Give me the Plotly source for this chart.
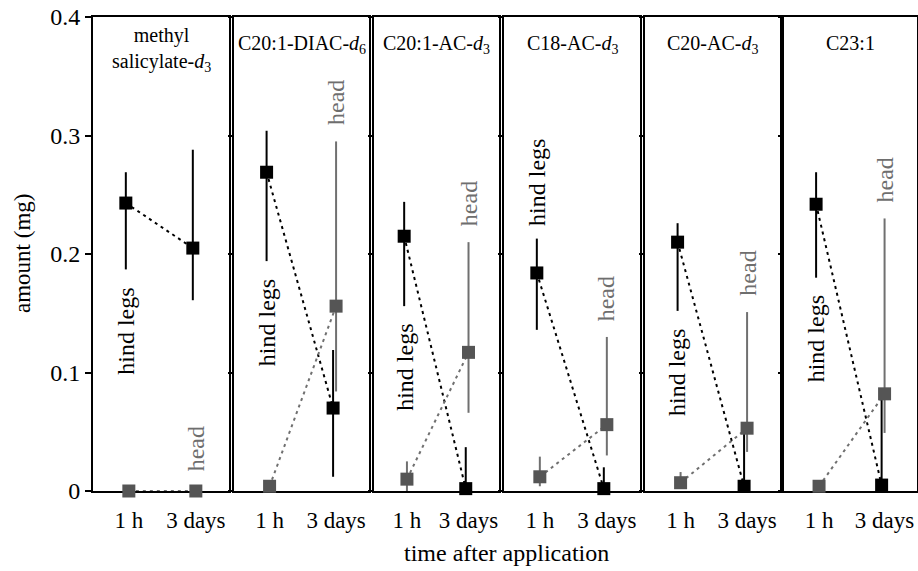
import numpy as np
import plotly.graph_objects as go

# ---------------- data ----------------
compounds = [
    "methyl<br>salicylate-<i>d</i><sub>3</sub>",
    "C20:1-DIAC-<i>d</i><sub>6</sub>",
    "C20:1-AC-<i>d</i><sub>3</sub>",
    "C18-AC-<i>d</i><sub>3</sub>",
    "C20-AC-<i>d</i><sub>3</sub>",
    "C23:1",
]
times = ["1 h", "3 days"]

# hind legs (black): mean, upper end, lower end of error bar
legs_mean = [[0.243, 0.205], [0.269, 0.070], [0.215, 0.002], [0.184, 0.002], [0.210, 0.004], [0.242, 0.005]]
legs_upper = [[0.269, 0.288], [0.304, 0.119], [0.244, 0.037], [0.213, 0.020], [0.226, 0.050], [0.269, 0.078]]
legs_lower = [[0.187, 0.161], [0.194, 0.012], [0.156, 0.000], [0.136, 0.000], [0.152, 0.000], [0.180, 0.000]]

# head (grey)
head_mean = [[0.000, 0.000], [0.004, 0.156], [0.010, 0.117], [0.012, 0.056], [0.007, 0.053], [0.004, 0.082]]
head_upper = [[0.000, 0.000], [0.004, 0.295], [0.025, 0.210], [0.029, 0.130], [0.016, 0.151], [0.004, 0.230]]
head_lower = [[0.000, 0.000], [0.004, 0.084], [0.000, 0.066], [0.004, 0.030], [0.003, 0.033], [0.004, 0.049]]

hind_label_side = ["below", "below", "below", "above", "below", "below"]
y_ticks = [0, 0.1, 0.2, 0.3, 0.4]

# ---------------- styling / layout ----------------
FONT = "Liberation Serif"
W, H = 918, 571
ML, MR, MT, MB = 93, 1, 17, 80
PW = W - ML - MR
panel_px = [(93, 229), (234, 369), (374, 499), (504, 640), (645, 780), (784, 917)]
domains = [((a - ML) / PW, min(1.0, (b - ML) / PW)) for a, b in panel_px]
DODGE = 0.045
XRANGE = [-0.49, 1.54]
BLACK = "#000000"
GREY = "#555555"
GREY_BAR = "#707070"
GREY_TXT = "#6e6e6e"
DOT = "3px,4px"

fig = go.Figure()
annotations = []
xpos = np.arange(len(times))

for i in range(len(compounds)):
    n = "" if i == 0 else str(i + 1)
    xa, ya = "x" + n, "y" + n
    lm, lu, ll = map(np.array, (legs_mean[i], legs_upper[i], legs_lower[i]))
    hm, hu, hl = map(np.array, (head_mean[i], head_upper[i], head_lower[i]))

    fig.add_trace(go.Scatter(
        x=xpos, y=lm, xaxis=xa, yaxis=ya, mode="lines+markers", cliponaxis=False,
        line=dict(color=BLACK, width=2, dash=DOT),
        marker=dict(symbol="square", size=13, color=BLACK),
        error_y=dict(type="data", symmetric=False, array=lu - lm, arrayminus=lm - ll,
                     color=BLACK, thickness=2, width=0),
        showlegend=False, hoverinfo="skip"))
    fig.add_trace(go.Scatter(
        x=xpos + DODGE, y=hm, xaxis=xa, yaxis=ya, mode="lines+markers", cliponaxis=False,
        line=dict(color=GREY_BAR, width=2, dash=DOT),
        marker=dict(symbol="square", size=13, color=GREY),
        error_y=dict(type="data", symmetric=False, array=hu - hm, arrayminus=hm - hl,
                     color=GREY_BAR, thickness=2, width=0),
        showlegend=False, hoverinfo="skip"))

    fig.layout["xaxis" + n] = dict(
        domain=list(domains[i]), range=XRANGE, anchor=ya,
        tickmode="array", tickvals=list(xpos + DODGE), ticktext=times,
        ticks="outside", ticklen=7, tickcolor="rgba(0,0,0,0)",
        tickfont=dict(family=FONT, size=23, color="black"),
        showline=True, mirror=True, linecolor="black", linewidth=2,
        showgrid=False, zeroline=False, layer="below traces", fixedrange=True,
        automargin=False)
    fig.layout["yaxis" + n] = dict(
        domain=[0, 1], range=[0, 0.4], anchor=xa,
        tickmode="array", tickvals=y_ticks,
        ticks="outside", ticklen=6 if i == 0 else 4, tickwidth=2, tickcolor="black",
        showticklabels=(i == 0),
        tickfont=dict(family=FONT, size=24, color="black"),
        showline=True, mirror=True, linecolor="black", linewidth=2,
        showgrid=False, zeroline=False, layer="below traces", fixedrange=True,
        automargin=False)

    # panel title
    two_lines = "<br>" in compounds[i]
    annotations.append(dict(
        text=compounds[i], xref=xa + " domain", yref="paper", x=0.5, y=1,
        xanchor="center", yanchor="top", yshift=-5 if two_lines else -13,
        showarrow=False, font=dict(family=FONT, size=20, color="black")))

    # "hind legs" label near black 1 h error bar
    if hind_label_side[i] == "below":
        yv, yanc, ysh = ll[0], "top", -16
    else:
        yv, yanc, ysh = lu[0], "bottom", 11
    annotations.append(dict(
        text="hind legs", xref=xa, yref=ya, x=xpos[0], y=yv, textangle=-90,
        xanchor="center", yanchor=yanc, yshift=ysh, showarrow=False,
        font=dict(family=FONT, size=24, color="black")))

    # "head" label above grey 3 day error bar
    annotations.append(dict(
        text="head", xref=xa, yref=ya, x=xpos[1] + DODGE, y=hu[1], textangle=-90,
        xanchor="center", yanchor="bottom", yshift=14 if hu[1] > 0.01 else 18,
        showarrow=False, font=dict(family=FONT, size=24, color=GREY_TXT)))

annotations.append(dict(
    text="amount (mg)", xref="paper", yref="paper", x=0, y=0.5, xshift=-71,
    textangle=-90, xanchor="center", yanchor="middle", showarrow=False,
    font=dict(family=FONT, size=23, color="black")))
annotations.append(dict(
    text="time after application", xref="paper", yref="paper", x=0.502, y=0,
    yshift=-62, xanchor="center", yanchor="middle", showarrow=False,
    font=dict(family=FONT, size=24, color="black")))

fig.update_layout(
    width=W, height=H,
    margin=dict(l=ML, r=MR, t=MT, b=MB, pad=0),
    paper_bgcolor="white", plot_bgcolor="white",
    annotations=annotations,
    font=dict(family=FONT, color="black"),
)

fig.write_html(
    "out.html",
    config={"displayModeBar": False},
    post_script="document.body.style.margin='0';document.body.style.overflow='hidden';",
)
